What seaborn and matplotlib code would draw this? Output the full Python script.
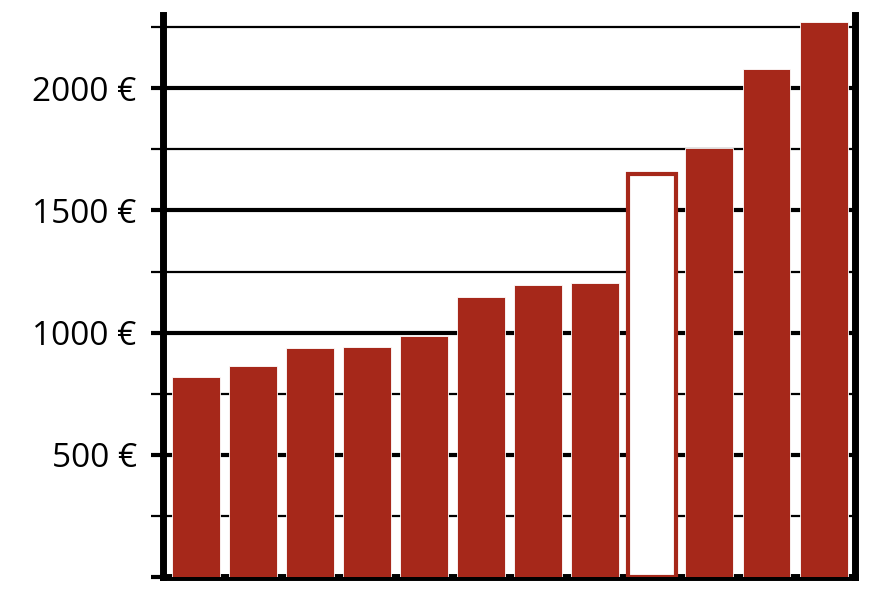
import matplotlib
matplotlib.use("Agg")
import matplotlib.pyplot as plt
import seaborn as sns
import pandas as pd
from matplotlib.ticker import MultipleLocator, FuncFormatter

# Values (euros)
categories = [str(i) for i in range(1, 13)]
values = [820, 865, 938, 943, 988, 1147, 1193, 1201, 1648, 1754, 2078, 2270]
highlight = 8  # index of the outlined (hollow) bar

red = "#a6281a"

df = pd.DataFrame({"cat": categories, "value": values})

sns.set_theme(style="white")
plt.rcParams["font.family"] = ["Open Sans", "DejaVu Sans"]

fig = plt.figure(figsize=(8.72, 5.97), dpi=100)
ax = fig.add_axes([0.187, 0.0335, 0.7935, 0.9415])

sns.barplot(data=df, x="cat", y="value", color=red, saturation=1,
            width=0.84, edgecolor="white", linewidth=0.6, ax=ax, zorder=3)

# hollow bar
p = ax.patches[highlight]
p.set_facecolor("white")
p.set_edgecolor(red)
p.set_linewidth(3)

ax.set_xlim(-0.57, len(values) - 0.45)
ax.set_ylim(0, 2300)

ax.yaxis.set_major_locator(MultipleLocator(500))
ax.yaxis.set_minor_locator(MultipleLocator(250))
ax.yaxis.set_major_formatter(FuncFormatter(lambda v, _: "" if v == 0 else f"{int(v)} €"))

ax.grid(which="major", axis="y", color="black", linewidth=3, zorder=0)
ax.grid(which="minor", axis="y", color="black", linewidth=1.6, zorder=0)
ax.set_axisbelow(True)

ax.tick_params(axis="y", which="major", length=9, width=3, color="black",
               direction="out", labelsize=24, labelcolor="black", pad=10, left=True)
ax.tick_params(axis="y", which="minor", length=9, width=1.6, color="black",
               direction="out", left=True)
ax.tick_params(axis="x", bottom=False, labelbottom=False)

for side in ["left", "right", "bottom"]:
    ax.spines[side].set_visible(True)
    ax.spines[side].set_color("black")
    ax.spines[side].set_linewidth(5)
ax.spines["top"].set_visible(False)

ax.set_xlabel("")
ax.set_ylabel("")

fig.savefig("out.png", dpi=100)
